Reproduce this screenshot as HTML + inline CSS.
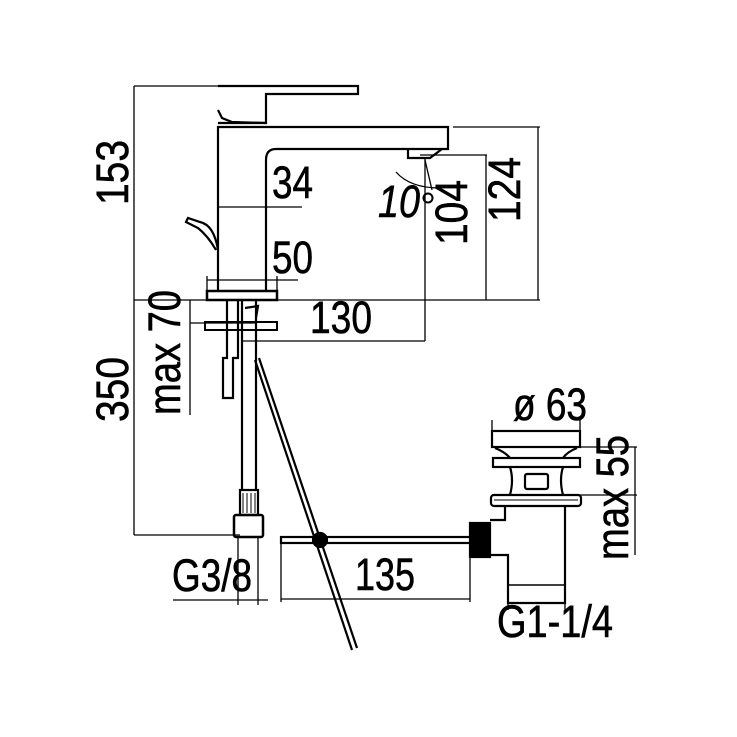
<!DOCTYPE html>
<html><head><style>html,body{margin:0;padding:0;background:#fff}svg{display:block}</style></head><body>
<svg width="737" height="737" viewBox="0 0 737 737" xmlns="http://www.w3.org/2000/svg">
<g fill="none" stroke="#000" stroke-width="2.2">
<path d="M218,292 V127 H448 V149 H276 Q266,149 266,160 V292"/>
<path d="M218,86 H358 V94 H266 V123 H218" />
<path d="M218,110 L222,118 L232,122 L266,123"/>
<path d="M408,149 V158 H430 L442,149"/>
<path d="M218,250 Q214,225 200,222 L188,218 L186,222 L198,228 Q208,236 216,250"/>
<rect x="207" y="291" width="70" height="9" stroke-width="2.5"/>
<rect x="205" y="322" width="72" height="8" stroke-width="2"/>
<path d="M227,300 V358 H223 V398 H233 V358 H238 V300"/>
<path d="M242,300 V490 M256,300 V490"/>
<path d="M245,308 L258,306 L256,318"/>
<rect x="240" y="490" width="18" height="25"/>
<path d="M243,493 V513 M247,493 V513 M251,493 V513 M255,493 V513" stroke-width="1"/>
<rect x="234" y="515" width="29" height="22" rx="2" stroke-width="2.5"/>
<path d="M255,360 L352,650 M259,358 L357,648"/>
<rect x="281" y="537" width="190" height="6"/>
<rect x="470" y="523" width="20" height="34" fill="#000"/>
<circle cx="320" cy="540" r="7" fill="#000"/>
<rect x="492" y="431" width="88" height="16"/>
<path d="M495,448 Q505,452 510,458 M577,448 Q567,452 563,458"/>
<rect x="493" y="458" width="87" height="9"/>
<path d="M510,467 Q514,480 510,495 M563,467 Q559,480 563,495"/>
<rect x="525" y="474" width="23" height="15" rx="2"/>
<rect x="491" y="495" width="90" height="11" rx="3"/>
<path d="M494,500 H578" stroke-width="1"/>
<path d="M505,506 V520 H490 M490,555 H508 V603 H565 V506"/>
<path d="M508,585 H565" stroke-width="1.5"/>
</g>
<g fill="none" stroke="#000" stroke-width="1.3">
<path d="M134,86 V535 M134,86 H218 M134,535 H240"/>
<path d="M134,300 H540"/>
<path d="M453,127 H540 M538,127 V300"/>
<path d="M420,155 H487 M486,155 V300"/>
<path d="M218,207 H302"/>
<path d="M207,280 H298 M207,276 V291 M277,276 V291"/>
<path d="M425,158 V341 M243,341 H425"/>
<path d="M425,160 L432,190"/>
<path d="M396,172 Q410,188 440,188"/>
<path d="M190,300 V415 M190,323 H255"/>
<path d="M173,600 H268 M238,537 V605 M258,537 V605"/>
<path d="M281,543 V602 M281,599 H470 M470,557 V602"/>
<path d="M508,603 V610 M565,603 V610"/>
<path d="M492,431 V420 M580,431 V420 M492,431 H580"/>
<path d="M580,447 H637 M635,447 V555 M580,495 H637"/>
</g>
<g font-family="'Liberation Sans Narrow','Liberation Sans',sans-serif" font-size="45" fill="#000" stroke="#000" stroke-width="0.6">
<text x="272" y="198" textLength="41" lengthAdjust="spacingAndGlyphs">34</text>
<text x="272" y="273" textLength="41" lengthAdjust="spacingAndGlyphs">50</text>
<text x="310" y="333" textLength="62" lengthAdjust="spacingAndGlyphs">130</text>
<text x="378" y="217" textLength="42" lengthAdjust="spacingAndGlyphs" font-style="italic">10</text>
<circle cx="428" cy="198" r="4.5" fill="none" stroke="#000" stroke-width="2"/>
<text transform="translate(467,245) rotate(-90)" textLength="65" lengthAdjust="spacingAndGlyphs">104</text>
<text transform="translate(520,222) rotate(-90)" textLength="65" lengthAdjust="spacingAndGlyphs">124</text>
<text transform="translate(128,205) rotate(-90)" textLength="65" lengthAdjust="spacingAndGlyphs">153</text>
<text transform="translate(128,422) rotate(-90)" textLength="65" lengthAdjust="spacingAndGlyphs">350</text>
<text transform="translate(180,415) rotate(-90)" textLength="125" lengthAdjust="spacingAndGlyphs">max 70</text>
<text transform="translate(628,560) rotate(-90)" textLength="125" lengthAdjust="spacingAndGlyphs">max 55</text>
<text x="172" y="591" textLength="80" lengthAdjust="spacingAndGlyphs">G3/8</text>
<text x="355" y="590" textLength="60" lengthAdjust="spacingAndGlyphs">135</text>
<text x="497" y="637" textLength="116" lengthAdjust="spacingAndGlyphs">G1-1/4</text>
<text x="513" y="420" textLength="74" lengthAdjust="spacingAndGlyphs">ø 63</text>
</g>
</svg>
</body></html>
